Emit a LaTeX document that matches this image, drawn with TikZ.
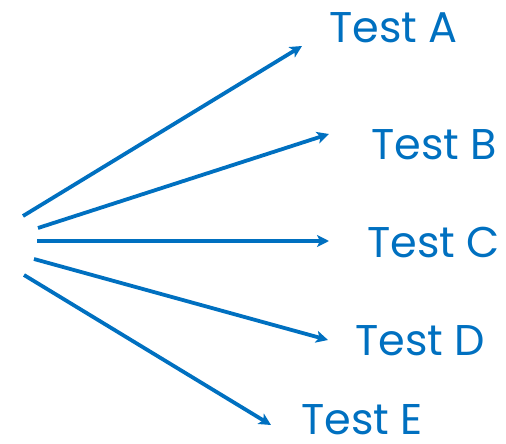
\documentclass[tikz,border=0pt]{standalone}
\usepackage{fontspec}
\setmainfont{Poppins}
\usepackage{xcolor}
\usetikzlibrary{arrows.meta, positioning}
\definecolor{testblue}{HTML}{0070C0}
\tikzset{
  % Arrow and label styles
  arrow/.style={-{Stealth[length=12pt, width=12pt, inset=3pt]}, line width=3.8pt, draw=testblue},
  testlabel/.style={anchor=base west, inner sep=0pt, text=testblue, font=\fontsize{43}{43}\selectfont},
}
\begin{document}
\begin{tikzpicture}[x=1pt, y=-1pt]
    \useasboundingbox (0,0) rectangle (506,444);

    % Start points
    \coordinate (sa) at (23,216);
    \coordinate (sb) at (38,228);
    \coordinate (sc) at (37,241);
    \coordinate (sd) at (34,259);
    \coordinate (se) at (24,275);

    % Arrow tips
    \coordinate (ea) at (302,46);
    \coordinate (eb) at (329,134);
    \coordinate (ec) at (329,241);
    \coordinate (ed) at (328,340);
    \coordinate (ee) at (271,425);

    % Labels
    \node[testlabel] (ta) at (329,43) {Test A};
    \node[testlabel] (tb) at (371,159) {Test B};
    \node[testlabel] (tc) at (367,257) {Test C};
    \node[testlabel] (td) at (355,355) {Test D};
    \node[testlabel] (te) at (301,434) {Test E};

    % === Arrows ===
    \draw[arrow] (sa) -- (ea);
    \draw[arrow] (sb) -- (eb);
    \draw[arrow] (sc) -- (ec);
    \draw[arrow] (sd) -- (ed);
    \draw[arrow] (se) -- (ee);
\end{tikzpicture}
\end{document}
